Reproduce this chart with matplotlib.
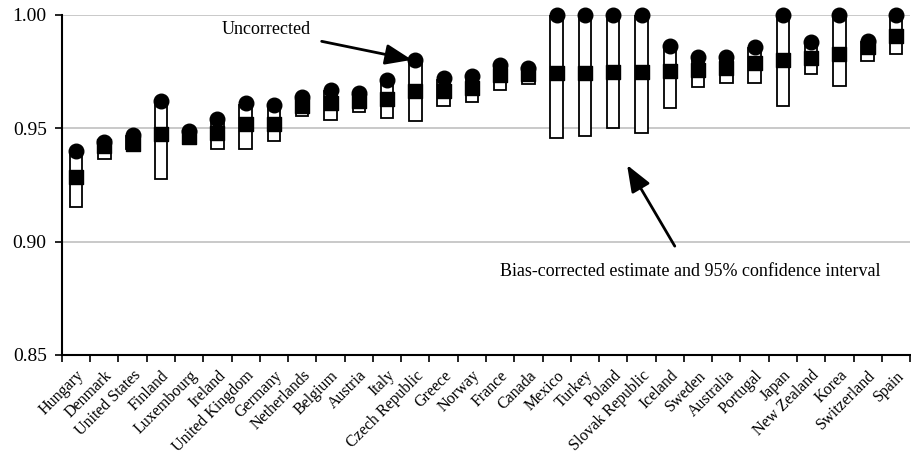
import matplotlib.pyplot as plt
import numpy as np

countries = ["Hungary", "Denmark", "United States", "Finland", "Luxembourg", "Ireland",
             "United Kingdom", "Germany", "Netherlands", "Belgium", "Austria", "Italy",
             "Czech Republic", "Greece", "Norway", "France", "Canada", "Mexico", "Turkey",
             "Poland", "Slovak Republic", "Iceland", "Sweden", "Australia", "Portugal",
             "Japan", "New Zealand", "Korea", "Switzerland", "Spain"]
uncorrected = [0.940, 0.944, 0.947, 0.962, 0.949, 0.954, 0.961, 0.9605, 0.964, 0.967,
               0.9655, 0.9715, 0.980, 0.972, 0.973, 0.978, 0.9765, 1.000, 1.000, 1.000,
               1.000, 0.9865, 0.9815, 0.9815, 0.986, 1.000, 0.988, 1.000, 0.9885, 1.000]
corrected = [0.9285, 0.942, 0.943, 0.9475, 0.946, 0.948, 0.952, 0.952, 0.960, 0.961,
             0.962, 0.963, 0.9665, 0.9665, 0.968, 0.9735, 0.974, 0.9743, 0.9743, 0.975,
             0.975, 0.9754, 0.9757, 0.9765, 0.9787, 0.980, 0.981, 0.983, 0.986, 0.9907]
ci_low = [0.9155, 0.9365, 0.941, 0.9277, 0.943, 0.941, 0.941, 0.9444, 0.9555, 0.9537,
          0.9574, 0.9547, 0.9534, 0.960, 0.9618, 0.967, 0.9694, 0.9459, 0.9468, 0.9503,
          0.9478, 0.9588, 0.9684, 0.970, 0.970, 0.960, 0.9738, 0.9687, 0.9797, 0.983]
ci_high = [0.9395, 0.9435, 0.9465, 0.9615, 0.9485, 0.9535, 0.9605, 0.960, 0.9635, 0.9665,
           0.965, 0.971, 0.9795, 0.9715, 0.9725, 0.9775, 0.976, 1.000, 1.000, 1.000,
           1.000, 0.986, 0.981, 0.981, 0.9855, 1.000, 0.9875, 1.000, 0.988, 1.000]

plt.rcParams["font.family"] = ["Liberation Serif", "DejaVu Serif"]

fig = plt.figure(figsize=(9.11, 4.68), dpi=100)
ax = fig.add_axes([0.068, 0.2415, 0.931, 0.7265])

x = np.arange(len(countries))
low = np.array(ci_low)
high = np.array(ci_high)

ax.bar(x, high - low, bottom=low, width=0.44, facecolor="white",
       edgecolor="black", linewidth=1.3, zorder=2)
ax.scatter(x, uncorrected, s=110, marker="o", color="black", zorder=3, clip_on=False)
ax.scatter(x, corrected, s=115, marker="s", color="black", zorder=4, clip_on=False)

ax.set_xlim(-0.5, len(countries) - 0.5)
ax.set_ylim(0.85, 1.00)
ax.set_yticks([0.85, 0.90, 0.95, 1.00])
ax.set_yticklabels(["0.85", "0.90", "0.95", "1.00"], fontsize=14)
ax.yaxis.grid(True, color="#c0c0c0", linewidth=1.2, zorder=0)
ax.set_axisbelow(True)

ax.set_xticks(x)
ax.set_xticklabels(countries, rotation=45, ha="right", rotation_mode="anchor", fontsize=11.5)
ax.tick_params(axis="x", which="major", length=0, pad=9)
ax.set_xticks(np.arange(-0.5, len(countries)), minor=True)
ax.tick_params(axis="x", which="minor", length=5, width=1.2, direction="out")
ax.tick_params(axis="y", length=5, width=1.2, direction="out", pad=6)

for side in ["top", "right"]:
    ax.spines[side].set_visible(False)
for side in ["left", "bottom"]:
    ax.spines[side].set_linewidth(1.5)

arrow = dict(arrowstyle="-|>,head_length=0.9,head_width=0.35", color="black", lw=2,
             mutation_scale=18, shrinkB=0)
ax.annotate("Uncorrected", xy=(11.88, 0.9802), xytext=(8.3, 0.9934),
            fontsize=13, ha="right", va="center",
            arrowprops=dict(arrow, shrinkA=6))
ax.annotate("Bias-corrected estimate and 95% confidence interval",
            xy=(19.49, 0.9338), xytext=(21.71, 0.8867),
            fontsize=13, ha="center", va="center",
            arrowprops=dict(arrow, shrinkA=12))

fig.savefig("out.png", dpi=100)
